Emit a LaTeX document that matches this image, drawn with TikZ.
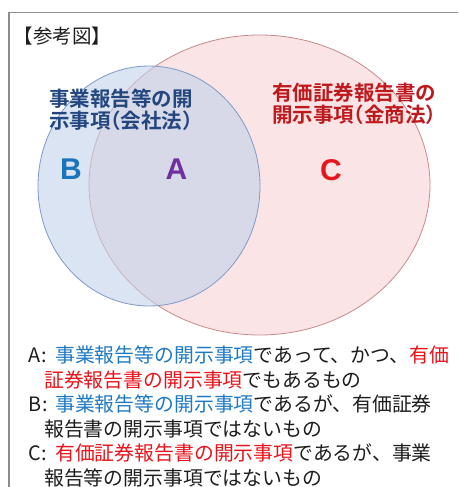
\documentclass[tikz,border=0pt]{standalone}
\usepackage{fontspec}
\setmainfont{Noto Sans CJK JP}[BoldFont={Noto Sans CJK JP Bold}]
\newfontfamily\latinfont{Liberation Sans}
\definecolor{framegray}{HTML}{8C8C8C}
\definecolor{redfill}{HTML}{FBE4E5}
\definecolor{redline}{HTML}{C98A8C}
\definecolor{bluefill}{HTML}{C2D3EA}
\definecolor{blueline}{HTML}{7E9BC6}
\definecolor{headblue}{HTML}{23467E}
\definecolor{headred}{HTML}{BE1A1E}
\definecolor{letterblue}{HTML}{1B75BC}
\definecolor{letterpurple}{HTML}{7030A0}
\definecolor{letterred}{HTML}{E8141C}
\definecolor{txtblue}{HTML}{1F7AC4}
\definecolor{txtred}{HTML}{E8141C}
\definecolor{txtblack}{HTML}{1E1E1E}
\tikzset{
  titletext/.style={inner sep=0pt, text=txtblack, font=\fontsize{19.5}{22}\selectfont},
  headtext/.style={inner sep=0pt, align=left, anchor=west, font=\bfseries\fontsize{20.5}{22.5}\selectfont},
  bigletter/.style={inner sep=0pt, font=\latinfont\bfseries\fontsize{30}{30}\selectfont},
  bodyline/.style={inner sep=0pt, anchor=base west, text=txtblack, font=\fontsize{19.85}{24}\selectfont},
}
\newcommand{\tb}[1]{\textcolor{txtblue}{#1}}
\newcommand{\tr}[1]{\textcolor{txtred}{#1}}
\newcommand{\lab}[1]{\makebox[27pt][l]{#1\kern1pt:}}
\begin{document}
\begin{tikzpicture}[x=1pt,y=-1pt]
\useasboundingbox (0,0) rectangle (458,487);
\fill[white] (0,0) rectangle (458,487);
% frame
\coordinate (fbl) at (9,487);
\coordinate (ftl) at (9,12.3);
\coordinate (ftr) at (458,12.3);
\draw[framegray, line width=1.3pt] (fbl) -- (ftl) -- (ftr);
% title
\node[titletext] (title) at (62.5,36) {【参考図】};
% ellipses
\draw[redline, line width=0.8pt, fill=redfill] (259.5,185) ellipse [x radius=170.5pt, y radius=150pt];
\fill[bluefill, fill opacity=0.6] (149,186) ellipse [x radius=111pt, y radius=120pt];
\draw[blueline, line width=0.8pt] (149,186) ellipse [x radius=111pt, y radius=120pt];
% headings
\node[headtext, text=headblue] (bluehead) at (49,109.5) {事業報告等の開\\示事項\kern-.5em（会社法）\kern-.5em};
\node[headtext, text=headred] (redhead) at (272,104) {有価証券報告書の\\開示事項\kern-.5em（金商法）\kern-.5em};
% letters
\node[bigletter, text=letterblue] (B) at (71,169) {B};
\node[bigletter, text=letterpurple] (A) at (176.5,169) {A};
\node[bigletter, text=letterred] (C) at (331,170) {C};
% body
\node[bodyline] (l1) at (28,362.5) {\lab{A}\tb{事業報告等の開示事項}であって、かつ、\tr{有価}};
\node[bodyline] (l2) at (44,387) {\tr{証券報告書の開示事項}でもあるもの};
\node[bodyline] (l3) at (28,411.5) {\lab{B}\tb{事業報告等の開示事項}であるが、有価証券};
\node[bodyline] (l4) at (44,436) {報告書の開示事項ではないもの};
\node[bodyline] (l5) at (28,460.5) {\lab{C}\tr{有価証券報告書の開示事項}であるが、事業};
\node[bodyline] (l6) at (44,485) {報告等の開示事項ではないもの};
\end{tikzpicture}
\end{document}
